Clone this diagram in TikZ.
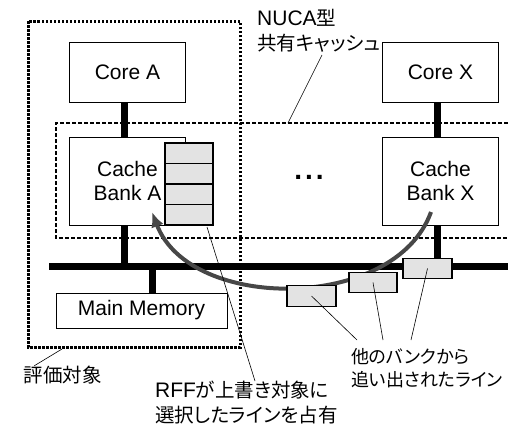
\documentclass[tikz,border=0pt]{standalone}
\usepackage{fontspec}
\setmainfont{Liberation Sans}
\newfontfamily\jp[RawFeature=+palt]{Noto Sans CJK JP}
\usetikzlibrary{arrows.meta,positioning,calc}

\begin{document}
\begin{tikzpicture}[x=1pt, y=-1pt,
  font=\fontsize{21}{24}\selectfont,
  box/.style={draw, line width=0.8pt, fill=white, align=center, inner sep=0pt, minimum width=116pt},
  cell/.style={draw, line width=1.4pt, fill=gray!22, inner sep=0pt, minimum width=48pt, minimum height=20.5pt},
  link/.style={line width=7pt},
  lead/.style={line width=0.6pt},
  lbl/.style={align=left, inner sep=0pt, font=\fontsize{19.5}{24.5}\selectfont\jp}
]
\useasboundingbox (0,0) rectangle (508,426);

% regions
\draw[line width=1.2pt, dash pattern=on 4pt off 2pt] (508,123) -| (56,238) -- (508,238);
\draw[line width=3pt, dash pattern=on 2.5pt off 1.5pt] (28,21) rectangle (240,347);

% bus
\coordinate (busL) at (49,266);
\coordinate (busR) at (508,266);
\draw[link] (busL) -- (busR);

% cores and banks
\node[box, minimum height=60pt] (coreA) at (127.5,72) {Core A};
\node[box, minimum height=60pt] (coreX) at (440.5,72) {Core X};
\node[box, minimum height=88pt] (bankA) at (127.5,181) {Cache\\Bank A};
\node[box, minimum height=88pt] (bankX) at (440.5,181) {Cache\\Bank X};
\node[box, minimum width=171pt, minimum height=35pt] (mem) at (141.5,310.5) {Main Memory};
\node[font=\fontsize{28}{28}\selectfont\bfseries] (dots) at (309,177) {.\hspace{3pt}.\hspace{3pt}.};

\draw[link] ([xshift=-3pt]coreA.south) -- ([xshift=-3pt]bankA.north);
\draw[link] ([xshift=-3pt]coreX.south) -- ([xshift=-3pt]bankX.north);
\draw[link] ([xshift=-3pt]bankA.south) -- ([xshift=-3pt]bankA.south |- busL);
\draw[link] ([xshift=-3pt]bankX.south) -- ([xshift=-3pt]bankX.south |- busL);
\draw[link] ([xshift=10.5pt]mem.north) -- ([xshift=10.5pt]mem.north |- busL);

% lines held by RFF
\foreach \i in {0,...,3}
  \node[cell] (c\i) at (189,{153.25+20.5*\i}) {};

% eviction path
\coordinate (fromX) at (431,212);
\coordinate (toA) at (152,212);
\draw[line width=4pt, draw=black!72, -{Latex[length=15pt,width=13pt]}]
  (fromX) .. controls (395,312) and (190,312) .. (toA);

\node[cell, minimum width=49pt] (e1) at (311.5,296) {};
\node[cell, minimum width=48pt] (e2) at (373,282.5) {};
\node[cell, minimum width=49pt] (e3) at (427.5,268.5) {};

% labels
\node[lbl, anchor=west] (nuca) at (257,30.5) {{\rmfamily\fontsize{21}{24}\selectfont NUCA}型\\共有キャッシュ};
\node[lbl] (eval) at (62.5,375) {評価対象};
\node[lbl, anchor=north west] (rff) at (155,381) {{\rmfamily\fontsize{21}{24}\selectfont RFF}が上書き対象に\\選択したラインを占有};
\node[lbl, anchor=north west, font=\fontsize{18}{23.5}\selectfont\jp] (other) at (351,348) {他のバンクから\\追い出されたライン};

\draw[lead] (322,55) -- (288,123);
\draw[lead] (eval.north west) ++(11,0) -- (62,349);
\draw[lead] (207,227) -- (rff.north west -| 255,0);
\draw[lead] (e1.center) -- (357,340);
\draw[lead] (e2.center) -- (383,340);
\draw[lead] (e3.center) -- (411,340);
\end{tikzpicture}
\end{document}
